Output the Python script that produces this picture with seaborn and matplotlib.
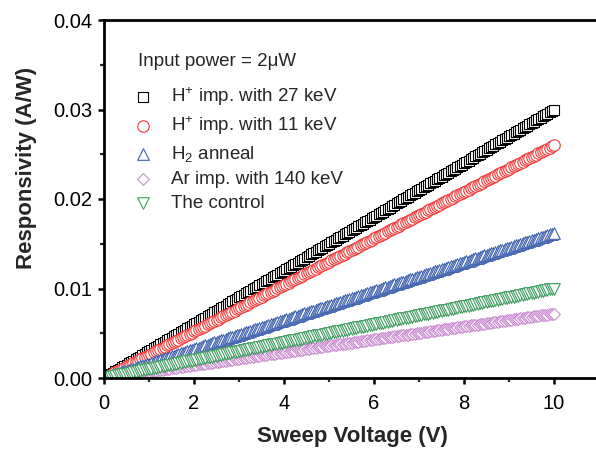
import matplotlib
matplotlib.use("Agg")
import matplotlib.pyplot as plt
from matplotlib.ticker import MultipleLocator, FormatStrFormatter
import seaborn as sns

# Sweep voltage (V), one reading every 0.05 V
voltage = [round(0.05 * i, 2) for i in range(201)]

# Responsivity (A/W)
r_h27 = [
    0.00000, 0.00015, 0.00030, 0.00045, 0.00060, 0.00075, 0.00090, 0.00105, 0.00120, 0.00135,
    0.00150, 0.00165, 0.00180, 0.00195, 0.00210, 0.00225, 0.00240, 0.00255, 0.00270, 0.00285,
    0.00300, 0.00315, 0.00330, 0.00345, 0.00360, 0.00375, 0.00390, 0.00405, 0.00420, 0.00435,
    0.00450, 0.00465, 0.00480, 0.00495, 0.00510, 0.00525, 0.00540, 0.00555, 0.00570, 0.00585,
    0.00600, 0.00615, 0.00630, 0.00645, 0.00660, 0.00675, 0.00690, 0.00705, 0.00720, 0.00735,
    0.00750, 0.00765, 0.00780, 0.00795, 0.00810, 0.00825, 0.00840, 0.00855, 0.00870, 0.00885,
    0.00900, 0.00915, 0.00930, 0.00945, 0.00960, 0.00975, 0.00990, 0.01005, 0.01020, 0.01035,
    0.01050, 0.01065, 0.01080, 0.01095, 0.01110, 0.01125, 0.01140, 0.01155, 0.01170, 0.01185,
    0.01200, 0.01215, 0.01230, 0.01245, 0.01260, 0.01275, 0.01290, 0.01305, 0.01320, 0.01335,
    0.01350, 0.01365, 0.01380, 0.01395, 0.01410, 0.01425, 0.01440, 0.01455, 0.01470, 0.01485,
    0.01500, 0.01515, 0.01530, 0.01545, 0.01560, 0.01575, 0.01590, 0.01605, 0.01620, 0.01635,
    0.01650, 0.01665, 0.01680, 0.01695, 0.01710, 0.01725, 0.01740, 0.01755, 0.01770, 0.01785,
    0.01800, 0.01815, 0.01830, 0.01845, 0.01860, 0.01875, 0.01890, 0.01905, 0.01920, 0.01935,
    0.01950, 0.01965, 0.01980, 0.01995, 0.02010, 0.02025, 0.02040, 0.02055, 0.02070, 0.02085,
    0.02100, 0.02115, 0.02130, 0.02145, 0.02160, 0.02175, 0.02190, 0.02205, 0.02220, 0.02235,
    0.02250, 0.02265, 0.02280, 0.02295, 0.02310, 0.02325, 0.02340, 0.02355, 0.02370, 0.02385,
    0.02400, 0.02415, 0.02430, 0.02445, 0.02460, 0.02475, 0.02490, 0.02505, 0.02520, 0.02535,
    0.02550, 0.02565, 0.02580, 0.02595, 0.02610, 0.02625, 0.02640, 0.02655, 0.02670, 0.02685,
    0.02700, 0.02715, 0.02730, 0.02745, 0.02760, 0.02775, 0.02790, 0.02805, 0.02820, 0.02835,
    0.02850, 0.02865, 0.02880, 0.02895, 0.02910, 0.02925, 0.02940, 0.02955, 0.02970, 0.02985,
    0.03000,
]
r_h11 = [
    0.00000, 0.00013, 0.00026, 0.00039, 0.00052, 0.00065, 0.00078, 0.00091, 0.00104, 0.00117,
    0.00130, 0.00143, 0.00156, 0.00169, 0.00182, 0.00195, 0.00208, 0.00221, 0.00234, 0.00247,
    0.00260, 0.00273, 0.00286, 0.00299, 0.00312, 0.00325, 0.00338, 0.00351, 0.00364, 0.00377,
    0.00390, 0.00403, 0.00416, 0.00429, 0.00442, 0.00455, 0.00468, 0.00481, 0.00494, 0.00507,
    0.00520, 0.00533, 0.00546, 0.00559, 0.00572, 0.00585, 0.00598, 0.00611, 0.00624, 0.00637,
    0.00650, 0.00663, 0.00676, 0.00689, 0.00702, 0.00715, 0.00728, 0.00741, 0.00754, 0.00767,
    0.00780, 0.00793, 0.00806, 0.00819, 0.00832, 0.00845, 0.00858, 0.00871, 0.00884, 0.00897,
    0.00910, 0.00923, 0.00936, 0.00949, 0.00962, 0.00975, 0.00988, 0.01001, 0.01014, 0.01027,
    0.01040, 0.01053, 0.01066, 0.01079, 0.01092, 0.01105, 0.01118, 0.01131, 0.01144, 0.01157,
    0.01170, 0.01183, 0.01196, 0.01209, 0.01222, 0.01235, 0.01248, 0.01261, 0.01274, 0.01287,
    0.01300, 0.01313, 0.01326, 0.01339, 0.01352, 0.01365, 0.01378, 0.01391, 0.01404, 0.01417,
    0.01430, 0.01443, 0.01456, 0.01469, 0.01482, 0.01495, 0.01508, 0.01521, 0.01534, 0.01547,
    0.01560, 0.01573, 0.01586, 0.01599, 0.01612, 0.01625, 0.01638, 0.01651, 0.01664, 0.01677,
    0.01690, 0.01703, 0.01716, 0.01729, 0.01742, 0.01755, 0.01768, 0.01781, 0.01794, 0.01807,
    0.01820, 0.01833, 0.01846, 0.01859, 0.01872, 0.01885, 0.01898, 0.01911, 0.01924, 0.01937,
    0.01950, 0.01963, 0.01976, 0.01989, 0.02002, 0.02015, 0.02028, 0.02041, 0.02054, 0.02067,
    0.02080, 0.02093, 0.02106, 0.02119, 0.02132, 0.02145, 0.02158, 0.02171, 0.02184, 0.02197,
    0.02210, 0.02223, 0.02236, 0.02249, 0.02262, 0.02275, 0.02288, 0.02301, 0.02314, 0.02327,
    0.02340, 0.02353, 0.02366, 0.02379, 0.02392, 0.02405, 0.02418, 0.02431, 0.02444, 0.02457,
    0.02470, 0.02483, 0.02496, 0.02509, 0.02522, 0.02535, 0.02548, 0.02561, 0.02574, 0.02587,
    0.02600,
]
r_h2 = [
    0.000000, 0.000081, 0.000162, 0.000243, 0.000324, 0.000405, 0.000486, 0.000567, 0.000648, 0.000729,
    0.000810, 0.000891, 0.000972, 0.001053, 0.001134, 0.001215, 0.001296, 0.001377, 0.001458, 0.001539,
    0.001620, 0.001701, 0.001782, 0.001863, 0.001944, 0.002025, 0.002106, 0.002187, 0.002268, 0.002349,
    0.002430, 0.002511, 0.002592, 0.002673, 0.002754, 0.002835, 0.002916, 0.002997, 0.003078, 0.003159,
    0.003240, 0.003321, 0.003402, 0.003483, 0.003564, 0.003645, 0.003726, 0.003807, 0.003888, 0.003969,
    0.004050, 0.004131, 0.004212, 0.004293, 0.004374, 0.004455, 0.004536, 0.004617, 0.004698, 0.004779,
    0.004860, 0.004941, 0.005022, 0.005103, 0.005184, 0.005265, 0.005346, 0.005427, 0.005508, 0.005589,
    0.005670, 0.005751, 0.005832, 0.005913, 0.005994, 0.006075, 0.006156, 0.006237, 0.006318, 0.006399,
    0.006480, 0.006561, 0.006642, 0.006723, 0.006804, 0.006885, 0.006966, 0.007047, 0.007128, 0.007209,
    0.007290, 0.007371, 0.007452, 0.007533, 0.007614, 0.007695, 0.007776, 0.007857, 0.007938, 0.008019,
    0.008100, 0.008181, 0.008262, 0.008343, 0.008424, 0.008505, 0.008586, 0.008667, 0.008748, 0.008829,
    0.008910, 0.008991, 0.009072, 0.009153, 0.009234, 0.009315, 0.009396, 0.009477, 0.009558, 0.009639,
    0.009720, 0.009801, 0.009882, 0.009963, 0.010044, 0.010125, 0.010206, 0.010287, 0.010368, 0.010449,
    0.010530, 0.010611, 0.010692, 0.010773, 0.010854, 0.010935, 0.011016, 0.011097, 0.011178, 0.011259,
    0.011340, 0.011421, 0.011502, 0.011583, 0.011664, 0.011745, 0.011826, 0.011907, 0.011988, 0.012069,
    0.012150, 0.012231, 0.012312, 0.012393, 0.012474, 0.012555, 0.012636, 0.012717, 0.012798, 0.012879,
    0.012960, 0.013041, 0.013122, 0.013203, 0.013284, 0.013365, 0.013446, 0.013527, 0.013608, 0.013689,
    0.013770, 0.013851, 0.013932, 0.014013, 0.014094, 0.014175, 0.014256, 0.014337, 0.014418, 0.014499,
    0.014580, 0.014661, 0.014742, 0.014823, 0.014904, 0.014985, 0.015066, 0.015147, 0.015228, 0.015309,
    0.015390, 0.015471, 0.015552, 0.015633, 0.015714, 0.015795, 0.015876, 0.015957, 0.016038, 0.016119,
    0.016200,
]
r_ar = [
    0.000000, 0.000036, 0.000072, 0.000108, 0.000144, 0.000180, 0.000216, 0.000252, 0.000288, 0.000324,
    0.000360, 0.000396, 0.000432, 0.000468, 0.000504, 0.000540, 0.000576, 0.000612, 0.000648, 0.000684,
    0.000720, 0.000756, 0.000792, 0.000828, 0.000864, 0.000900, 0.000936, 0.000972, 0.001008, 0.001044,
    0.001080, 0.001116, 0.001152, 0.001188, 0.001224, 0.001260, 0.001296, 0.001332, 0.001368, 0.001404,
    0.001440, 0.001476, 0.001512, 0.001548, 0.001584, 0.001620, 0.001656, 0.001692, 0.001728, 0.001764,
    0.001800, 0.001836, 0.001872, 0.001908, 0.001944, 0.001980, 0.002016, 0.002052, 0.002088, 0.002124,
    0.002160, 0.002196, 0.002232, 0.002268, 0.002304, 0.002340, 0.002376, 0.002412, 0.002448, 0.002484,
    0.002520, 0.002556, 0.002592, 0.002628, 0.002664, 0.002700, 0.002736, 0.002772, 0.002808, 0.002844,
    0.002880, 0.002916, 0.002952, 0.002988, 0.003024, 0.003060, 0.003096, 0.003132, 0.003168, 0.003204,
    0.003240, 0.003276, 0.003312, 0.003348, 0.003384, 0.003420, 0.003456, 0.003492, 0.003528, 0.003564,
    0.003600, 0.003636, 0.003672, 0.003708, 0.003744, 0.003780, 0.003816, 0.003852, 0.003888, 0.003924,
    0.003960, 0.003996, 0.004032, 0.004068, 0.004104, 0.004140, 0.004176, 0.004212, 0.004248, 0.004284,
    0.004320, 0.004356, 0.004392, 0.004428, 0.004464, 0.004500, 0.004536, 0.004572, 0.004608, 0.004644,
    0.004680, 0.004716, 0.004752, 0.004788, 0.004824, 0.004860, 0.004896, 0.004932, 0.004968, 0.005004,
    0.005040, 0.005076, 0.005112, 0.005148, 0.005184, 0.005220, 0.005256, 0.005292, 0.005328, 0.005364,
    0.005400, 0.005436, 0.005472, 0.005508, 0.005544, 0.005580, 0.005616, 0.005652, 0.005688, 0.005724,
    0.005760, 0.005796, 0.005832, 0.005868, 0.005904, 0.005940, 0.005976, 0.006012, 0.006048, 0.006084,
    0.006120, 0.006156, 0.006192, 0.006228, 0.006264, 0.006300, 0.006336, 0.006372, 0.006408, 0.006444,
    0.006480, 0.006516, 0.006552, 0.006588, 0.006624, 0.006660, 0.006696, 0.006732, 0.006768, 0.006804,
    0.006840, 0.006876, 0.006912, 0.006948, 0.006984, 0.007020, 0.007056, 0.007092, 0.007128, 0.007164,
    0.007200,
]
r_control = [
    0.00000, 0.00005, 0.00010, 0.00015, 0.00020, 0.00025, 0.00030, 0.00035, 0.00040, 0.00045,
    0.00050, 0.00055, 0.00060, 0.00065, 0.00070, 0.00075, 0.00080, 0.00085, 0.00090, 0.00095,
    0.00100, 0.00105, 0.00110, 0.00115, 0.00120, 0.00125, 0.00130, 0.00135, 0.00140, 0.00145,
    0.00150, 0.00155, 0.00160, 0.00165, 0.00170, 0.00175, 0.00180, 0.00185, 0.00190, 0.00195,
    0.00200, 0.00205, 0.00210, 0.00215, 0.00220, 0.00225, 0.00230, 0.00235, 0.00240, 0.00245,
    0.00250, 0.00255, 0.00260, 0.00265, 0.00270, 0.00275, 0.00280, 0.00285, 0.00290, 0.00295,
    0.00300, 0.00305, 0.00310, 0.00315, 0.00320, 0.00325, 0.00330, 0.00335, 0.00340, 0.00345,
    0.00350, 0.00355, 0.00360, 0.00365, 0.00370, 0.00375, 0.00380, 0.00385, 0.00390, 0.00395,
    0.00400, 0.00405, 0.00410, 0.00415, 0.00420, 0.00425, 0.00430, 0.00435, 0.00440, 0.00445,
    0.00450, 0.00455, 0.00460, 0.00465, 0.00470, 0.00475, 0.00480, 0.00485, 0.00490, 0.00495,
    0.00500, 0.00505, 0.00510, 0.00515, 0.00520, 0.00525, 0.00530, 0.00535, 0.00540, 0.00545,
    0.00550, 0.00555, 0.00560, 0.00565, 0.00570, 0.00575, 0.00580, 0.00585, 0.00590, 0.00595,
    0.00600, 0.00605, 0.00610, 0.00615, 0.00620, 0.00625, 0.00630, 0.00635, 0.00640, 0.00645,
    0.00650, 0.00655, 0.00660, 0.00665, 0.00670, 0.00675, 0.00680, 0.00685, 0.00690, 0.00695,
    0.00700, 0.00705, 0.00710, 0.00715, 0.00720, 0.00725, 0.00730, 0.00735, 0.00740, 0.00745,
    0.00750, 0.00755, 0.00760, 0.00765, 0.00770, 0.00775, 0.00780, 0.00785, 0.00790, 0.00795,
    0.00800, 0.00805, 0.00810, 0.00815, 0.00820, 0.00825, 0.00830, 0.00835, 0.00840, 0.00845,
    0.00850, 0.00855, 0.00860, 0.00865, 0.00870, 0.00875, 0.00880, 0.00885, 0.00890, 0.00895,
    0.00900, 0.00905, 0.00910, 0.00915, 0.00920, 0.00925, 0.00930, 0.00935, 0.00940, 0.00945,
    0.00950, 0.00955, 0.00960, 0.00965, 0.00970, 0.00975, 0.00980, 0.00985, 0.00990, 0.00995,
    0.01000,
]

labels = [
    "H$^{+}$ imp. with 27 keV",
    "H$^{+}$ imp. with 11 keV",
    "H$_{2}$ anneal",
    "Ar imp. with 140 keV",
    "The control",
]
series = [r_h27, r_h11, r_h2, r_ar, r_control]
colors = ["#000000", "#f23a3a", "#3c5fae", "#c98bd0", "#3f9c5f"]
markers = ["s", "o", "^", "D", "v"]
sizes = [50, 68, 70, 36, 70]

sns.set_theme(style="ticks")
plt.rcParams["font.family"] = ["Liberation Sans", "DejaVu Sans"]
plt.rcParams["mathtext.fontset"] = "custom"
plt.rcParams["mathtext.rm"] = "Liberation Sans"
plt.rcParams["mathtext.it"] = "Liberation Sans:italic"

fig = plt.figure(figsize=(5.96, 4.5), dpi=100)
ax = fig.add_axes([104 / 596, 1 - 378 / 450, 495 / 596, 358 / 450])

for y, lab, c, m, s in zip(series, labels, colors, markers, sizes):
    sns.scatterplot(x=voltage, y=y, marker=m, s=s, color=c, facecolor="white",
                    edgecolor=c, linewidth=0.8, label=lab, ax=ax)

ax.set_xlim(0, 11)
ax.set_ylim(0, 0.04)
ax.xaxis.set_major_locator(MultipleLocator(2))
ax.xaxis.set_minor_locator(MultipleLocator(1))
ax.yaxis.set_major_locator(MultipleLocator(0.01))
ax.yaxis.set_minor_locator(MultipleLocator(0.005))
ax.yaxis.set_major_formatter(FormatStrFormatter("%.2f"))
ax.xaxis.set_major_formatter(FormatStrFormatter("%d"))

for sp in ax.spines.values():
    sp.set_linewidth(2)
    sp.set_color("black")
ax.tick_params(which="major", direction="out", length=4.5, width=1.8,
               labelsize=14.5, colors="black", top=False, right=False)
ax.tick_params(which="minor", direction="out", length=3, width=1.6,
               top=False, right=False)
ax.tick_params(axis="x", which="major", pad=7)
ax.tick_params(axis="y", which="major", pad=4)

ax.set_xlabel("Sweep Voltage (V)", fontsize=16, fontweight="bold")
ax.set_ylabel("Responsivity (A/W)", fontsize=16, fontweight="bold")
ax.xaxis.set_label_coords(0.501, -0.135)
ax.yaxis.set_label_coords(-0.135, 0.587)

fig.text(138 / 596, 1 - 61 / 450, "Input power = 2\u03bcW", fontsize=13.5,
         va="center", ha="left")
ax.legend(loc="upper left", bbox_to_anchor=(132 / 596, 1 - 85 / 450),
          bbox_transform=fig.transFigure, frameon=False, fontsize=13.5,
          handlelength=1.2, handletextpad=0.9, labelspacing=0.36,
          borderpad=0, borderaxespad=0, scatterpoints=1)

fig.savefig("out.png", dpi=100)
